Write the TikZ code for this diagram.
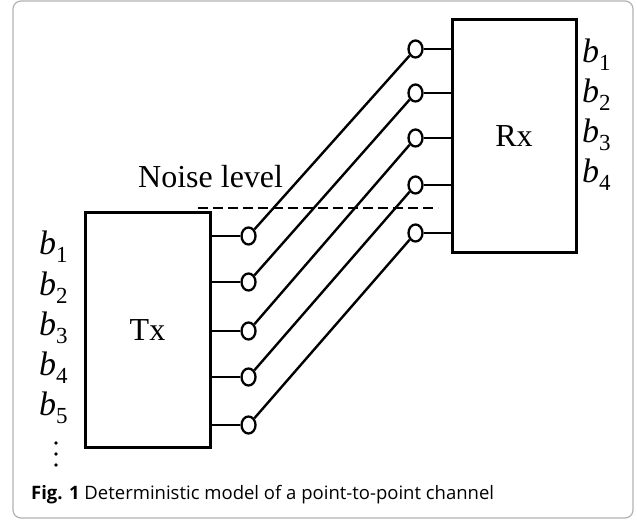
\documentclass[tikz,border=0pt]{standalone}
\usepackage{fontspec}
\setmainfont{Liberation Serif}
\newfontfamily\capfont{Open Sans}
\usetikzlibrary{shapes.geometric}
\tikzset{port/.style={draw,ellipse,line width=2.3pt,minimum width=14pt,minimum height=17pt,inner sep=0pt},
  blockbox/.style={draw,line width=3pt,minimum width=125pt,minimum height=234pt,inner sep=0pt},
  wire/.style={line width=2.4pt}, lbl/.style={anchor=base west,inner sep=0pt}}
\newcommand{\bitlabel}[1]{{\fontsize{34}{36}\selectfont\textit{b}}\raisebox{-8pt}{\fontsize{23}{23}\selectfont #1}}

\begin{document}
\begin{tikzpicture}[x=1pt,y=-1pt,font=\fontsize{32}{36}\selectfont]
  \useasboundingbox (0,0) rectangle (637,521);
  \draw[gray!60,line width=1.2pt,rounded corners=8pt] (13,1) rectangle (633,518);
  \node[blockbox] (tx) at (147.5,330) {Tx};
  \node[blockbox,minimum width=124pt,minimum height=233pt] (rx) at (514,136.5) {Rx};
  \foreach \i/\ty/\ry in {1/236/49,2/282/93,3/331/138,4/377/185,5/425/233} {
    \node[port] (t\i) at (248.5,\ty) {}; \node[port] (r\i) at (415.5,\ry) {};
    \draw[wire] (tx.east |- t\i) -- (t\i); \draw[wire] (r\i) -- (rx.west |- r\i);
    \draw[wire] (t\i) -- (r\i);
  }
  \foreach \i/\yb in {1/255,2/295,3/335,4/375,5/415} \node[lbl] (lb\i) at (39,\yb) {\bitlabel{\i}};
  \foreach \i/\yb in {1/63,2/103,3/143,4/183} \node[lbl] (rb\i) at (582,\yb) {\bitlabel{\i}};
  \foreach \yd in {443,454,465} \fill (56,\yd) circle (1.8pt);
  \node[lbl] (noise) at (138,188) {Noise level};
  \coordinate (nl-l) at (198,208); \coordinate (nl-r) at (438,208);
  \draw[line width=2.4pt,dash pattern=on 10pt off 5pt] (nl-l) -- (nl-r);
  \node[lbl,font=\capfont\fontsize{18.5}{20}\selectfont] (cap) at (31,499) {\textbf{Fig. 1} Deterministic model of a point-to-point channel};
\end{tikzpicture}
\end{document}
